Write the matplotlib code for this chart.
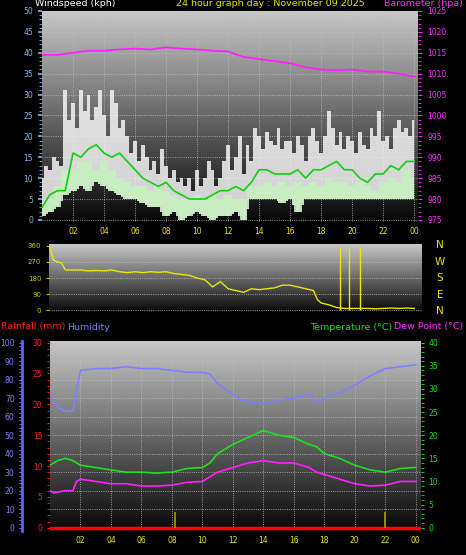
import numpy as np
import matplotlib
matplotlib.use("Agg")
import matplotlib.pyplot as plt
from matplotlib.ticker import MultipleLocator

# ---------------- data ----------------
gust_t = np.arange(0, 24.01, 0.25)
gust = [10,13,12,15, 14,13,31,24, 28,22,31,26, 30,24,27,31, 25,20,31,28,
        22,24,20,16, 19,14,18,15, 12,14,11,17, 13,10,12,9, 10,8,10,7,
        12,8,10,14, 12,8,10,14, 18,12,15,20, 11,18,14,22, 20,17,21,19,
        18,22,17,19, 19,16,20,18, 14,20,22,19, 16,20,26,22, 18,21,17,20,
        19,16,21,18, 17,22,20,26, 19,20,17,22, 24,21,22,20, 24]
half_t = np.arange(0, 24.01, 0.5)
wind_avg = [3,6,7,7,16,15,17,18,16,15,16,14,12,10,9,8,9,7,6,5,5,5,6,7,7,8,7,9,12,12,
            11,11,11,12,10,12,12,13,14,12,12,10,9,11,11,13,12,14,14]
lull_top = [5,5,8,12,12,14,14,12,14,12,10,9,8,8,7,8,7,6,5,5,6,5,6,5,6,5,5,8,8,9,
            8,9,8,9,8,9,8,10,9,9,8,9,8,7,9,10,9,12,10]
wind_min = [1,2,3,6,7,8,7,9,8,7,6,5,5,4,3,3,1,2,0,1,2,1,0,1,1,2,0,5,5,5,
            5,4,5,2,5,5,5,5,5,5,5,5,5,5,5,5,5,5,5]
hour_t = np.arange(0, 25)
baro = [1014.5,1014.5,1015,1015.5,1015.5,1015.8,1016,1015.8,1016.3,1016,1015.8,1015.5,
        1015.3,1014,1013.5,1013,1012.5,1011.5,1011,1010.8,1011,1010.5,1010.5,1010,1009.3]

dir_t = [0.5,0.75,1.0,1.25,1.5,2,2.5,3,3.5,4,4.5,5,5.5,6,6.5,7,7.5,8,8.5,9,9.5,10,10.5,11,
         11.5,12,12.5,13,13.5,14,14.5,15,15.5,16,16.5,17,17.5,17.75,18,18.5,19,19.5,20,20.5,
         21,21.5,22,22.5,23,23.5,24]
wind_dir = [350,280,270,265,225,225,225,220,222,220,225,215,210,215,210,215,212,215,205,200,
            195,180,170,130,160,120,110,100,120,115,120,125,140,140,130,120,110,60,40,30,15,
            10,10,10,10,8,10,12,10,12,10]
dir_spike_t = [19.2, 19.8, 20.5]
dir_spike = [350, 355, 355]

hum_t = [0,0.5,1,1.5,1.75,2,3,4,5,6,7,8,9,10,10.5,11,12,12.5,13,14,15,16,17,17.5,18,19,20,21,22,23,24]
humidity = [72,65,63,63,75,85,86,86,87,86,86,85,84,84,83,78,72,69,68,67,69,70,72,67,70,73,77,82,86,87,88]
temp_t = [0,0.5,1,1.5,2,3,4,5,6,7,8,9,10,10.5,11,12,13,14,15,16,17,17.5,18,19,20,21,22,23,24]
temperature = [13.5,14.5,15,14.5,13.5,13,12.5,12,12,11.8,12,12.8,13,14,16,18,19.5,21,20,19.5,
               18,17.5,16,15,13.5,12.5,12,12.8,13]
dew_t = [0,0.25,1,1.5,1.75,2,3,4,5,6,7,8,9,10,11,12,13,14,15,16,17,17.5,18,19,20,21,22,23,24]
dewpoint = [8,7.5,8,8,10,10.5,10,9.5,9.5,9,9,9.2,9.8,10,12,13,14,14.5,14,14,13,12,11.5,10.5,
            9.5,9,9.2,10,10]
rain_t = [0, 24.3]
rain = [0, 0]
marker_t = [8.2, 22.0]
marker_h = [3.3, 3.3]

xticks = [2,4,6,8,10,12,14,16,18,20,22,24]
xlabels = ["02","04","06","08","10","12","14","16","18","20","22","00"]

# ---------------- figure ----------------
W, H = 466, 555
fig = plt.figure(figsize=(W/100, H/100), dpi=100, facecolor="black")

def box(l, t, r, b):
    return [l/W, 1-b/H, (r-l)/W, (b-t)/H]

grad = np.linspace(0.78, 0.03, 256).reshape(-1, 1)

def background(ax):
    ax.imshow(grad, cmap="gray", vmin=0, vmax=1, aspect="auto",
              extent=[0, 1, 0, 1], transform=ax.transAxes, zorder=0)

FS = 5.5
TF = 6.8
YEL = "#e8e800"

# ---------- top: wind ----------
ax1 = fig.add_axes(box(42, 11, 418, 222))
background(ax1)
ax1.set_xlim(0, 24.25)
ax1.set_ylim(-0.5, 50)
ax1.fill_between(gust_t, np.interp(gust_t, half_t, wind_min), gust, step="mid",
                 color="#f4f4f4", alpha=0.85, lw=0, zorder=2)
ax1.fill_between(half_t, wind_min, lull_top, step="mid", color="#c8f0c0",
                 alpha=0.9, lw=0, zorder=3)
ax1.plot(half_t, wind_avg, color="#10d010", lw=1.2, zorder=4)
ax1.set_yticks(range(0, 51, 5))
ax1.yaxis.set_minor_locator(MultipleLocator(1))
ax1.tick_params(axis="y", colors="#8ab4e0", labelsize=FS, length=3, width=1.2)
ax1.tick_params(axis="y", which="minor", colors="#8ab4e0", length=2)
ax1.set_xticks(xticks)
ax1.set_xticklabels(xlabels)
ax1.tick_params(axis="x", colors=YEL, labelsize=FS, length=0)
ax1.grid(True, color="#c0c0c0", ls=":", lw=0.6, zorder=1)
ax1b = ax1.twinx()
ax1b.set_ylim(974.5, 1025)
ax1b.plot(hour_t, baro, color="#ff20ff", lw=1.3)
ax1b.set_yticks(range(975, 1026, 5))
ax1b.yaxis.set_minor_locator(MultipleLocator(1))
ax1b.tick_params(axis="y", colors="#ff30ff", labelsize=FS, length=3)
ax1b.tick_params(axis="y", which="minor", colors="#ff30ff", length=2)
for a in (ax1, ax1b):
    for s in a.spines.values():
        s.set_visible(False)

fig.text(35/W, 1-4/H, "Windspeed (kph)", color="white", fontsize=TF, va="center")
fig.text(270/W, 1-4/H, "24 hour graph day : November 09 2025", color=YEL, fontsize=TF,
         va="center", ha="center")
fig.text(463/W, 1-4/H, "Barometer (hpa)", color="#ff30ff", fontsize=TF, va="center", ha="right")

# ---------- middle: wind direction ----------
ax2 = fig.add_axes(box(49, 244, 422, 312))
background(ax2)
ax2.set_xlim(0.45, 24.5)
ax2.set_ylim(-10, 370)
ax2.plot(dir_t, wind_dir, color=YEL, lw=1.0, zorder=3)
ax2.vlines(dir_spike_t, 0, dir_spike, color=YEL, lw=1.0, zorder=3)
ax2.set_yticks([0, 90, 180, 270, 360])
ax2.tick_params(axis="y", colors="#c8c800", labelsize=FS - 0.5, length=2)
ax2.set_xticks([])
ax2.grid(True, axis="y", color="#c0c0c0", ls=":", lw=0.6)
for s in ax2.spines.values():
    s.set_visible(False)
for i, c in enumerate(["N", "W", "S", "E", "N"]):
    fig.text(440/W, 1-(245 + i*16.5)/H, c, color=YEL, fontsize=7.5, ha="center", va="center")

fig.text(1/W, 1-327/H, "Rainfall (mm)", color="#ff2020", fontsize=TF, va="center")
fig.text(67/W, 1-327/H, "Humidity", color="#8080ff", fontsize=TF, va="center")
fig.text(392/W, 1-327/H, "Temperature (\u00b0C)", color="#20e020", fontsize=TF, va="center", ha="right")
fig.text(463/W, 1-327/H, "Dew Point (\u00b0C)", color="#ff30ff", fontsize=TF, va="center", ha="right")

# ---------- bottom ----------
ax3 = fig.add_axes(box(50, 341, 421, 531))
background(ax3)
ax3.set_xlim(0, 24.35)
ax3.set_ylim(-1.8, 100.9)
ax3.plot(hum_t, humidity, color="#8080ff", lw=1.2, zorder=3)
ax3.set_yticks(range(0, 101, 10))
ax3.yaxis.set_minor_locator(MultipleLocator(2))
ax3.tick_params(axis="y", which="both", colors="#8080ff", labelsize=FS, length=2)
ax3.spines["left"].set_position(("outward", 20))
ax3.spines["left"].set_color("#6060ff")
ax3.spines["left"].set_linewidth(2)
ax3.set_xticks(xticks)
ax3.set_xticklabels(xlabels)
ax3.tick_params(axis="x", colors=YEL, labelsize=FS, length=0)
ax3.grid(True, color="#c0c0c0", ls=":", lw=0.6, zorder=1)
for k in ("top", "right", "bottom"):
    ax3.spines[k].set_visible(False)

ax3r = ax3.twinx()
ax3r.set_ylim(-1.8*0.3, 30.27)
ax3r.plot(rain_t, rain, color="#ff0000", lw=2.5, zorder=5)
ax3r.yaxis.tick_left()
ax3r.set_yticks(range(0, 31, 5))
ax3r.yaxis.set_minor_locator(MultipleLocator(1))
ax3r.tick_params(axis="y", which="both", colors="#ff2020", labelsize=FS, length=2)
for s in ax3r.spines.values():
    s.set_visible(False)

ax3t = ax3.twinx()
ax3t.set_ylim(-1.8*0.4, 40.36)
ax3t.plot(temp_t, temperature, color="#20e020", lw=1.2)
ax3t.plot(dew_t, dewpoint, color="#ff20ff", lw=1.2)
ax3t.vlines(marker_t, 0, marker_h, color="#a0a000", lw=1.2)
ax3t.set_yticks(range(0, 41, 5))
ax3t.yaxis.set_minor_locator(MultipleLocator(1))
ax3t.tick_params(axis="y", which="both", colors="#20e020", labelsize=FS, length=2)
for s in ax3t.spines.values():
    s.set_visible(False)

fig.savefig("out.png", dpi=100, facecolor="black")
